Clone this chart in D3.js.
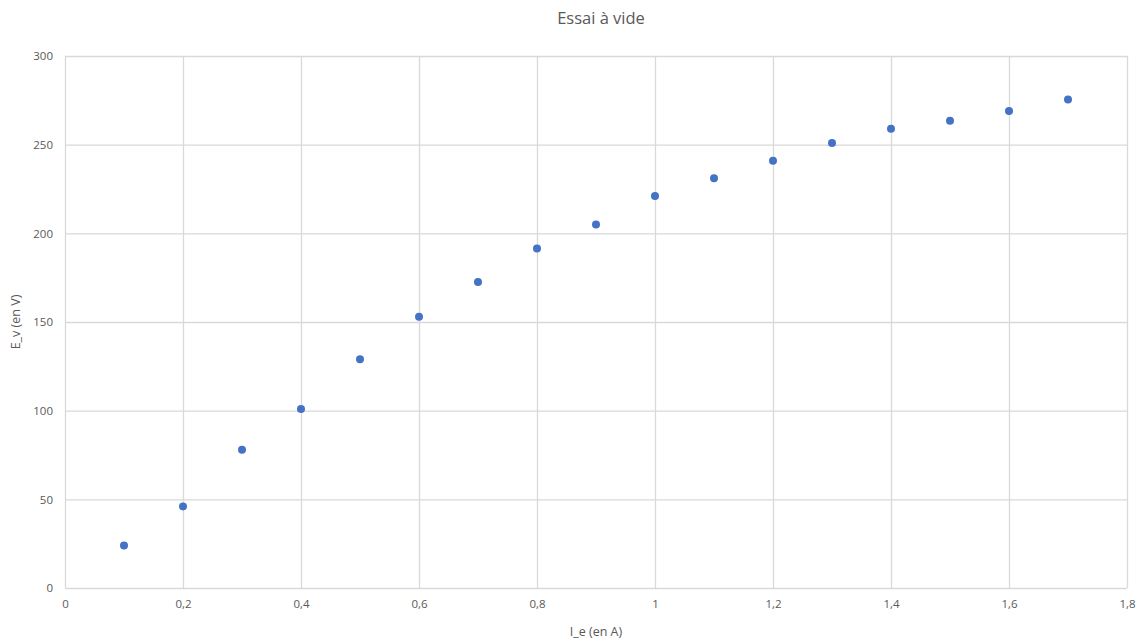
<!DOCTYPE html>
<html><head><meta charset="utf-8">
<script src="https://cdn.jsdelivr.net/npm/d3@7"></script>
<style>body{margin:0;background:#fff}svg{display:block}text{font-family:"Open Sans","Liberation Sans",sans-serif;fill:#595959}</style>
</head><body><svg id="c" width="1138" height="641"></svg>
<script>
const currents = [0.1,0.2,0.3,0.4,0.5,0.6,0.7,0.8,0.9,1.0,1.1,1.2,1.3,1.4,1.5,1.6,1.7];
const voltages = [24,46,78,101,129,153,172.5,191.5,205,221,231,241,251,259,263.5,269,275.5];
const xTicks = [0,0.2,0.4,0.6,0.8,1,1.2,1.4,1.6,1.8];
const yTicks = [0,50,100,150,200,250,300];
const title = "Essai à vide", xTitle = "I_e (en A)", yTitle = "E_v (en V)";

const svg = d3.select("#c");
const m = {l:65, r:1127, t:56, b:588};
const x = d3.scaleLinear().domain([0,1.8]).range([m.l,m.r]);
const y = d3.scaleLinear().domain([0,300]).range([m.b,m.t]);
const fmt = d => String(d).replace(".", ",");

const gx = svg.append("g").attr("transform",`translate(0,${m.b})`)
  .call(d3.axisBottom(x).tickValues(xTicks).tickFormat(fmt).tickSize(-(m.b-m.t)).tickPadding(12));
const gy = svg.append("g").attr("transform",`translate(${m.l},0)`)
  .call(d3.axisLeft(y).tickValues(yTicks).tickSize(-(m.r-m.l)).tickPadding(12));
[gx,gy].forEach(g=>{
  g.select(".domain").remove();
  g.selectAll(".tick line").attr("stroke","#d9d9d9").attr("stroke-width",1.3);
  g.selectAll(".tick text").attr("font-size",11.5).style("fill","#595959");
});
gy.selectAll(".tick text").attr("dx",0);

svg.append("g").selectAll("circle").data(currents).join("circle")
  .attr("cx",d=>x(d)).attr("cy",(d,i)=>y(voltages[i])).attr("r",4).attr("fill","#4472C4");

svg.append("text").attr("x",(m.l+m.r)/2+5).attr("y",24).attr("text-anchor","middle").attr("font-size",16.5).text(title);
svg.append("text").attr("x",(m.l+m.r)/2).attr("y",636).attr("text-anchor","middle").attr("font-size",12.5).text(xTitle);
svg.append("text").attr("transform",`translate(20,${(m.t+m.b)/2}) rotate(-90)`).attr("text-anchor","middle").attr("font-size",12.5).text(yTitle);
</script></body></html>
